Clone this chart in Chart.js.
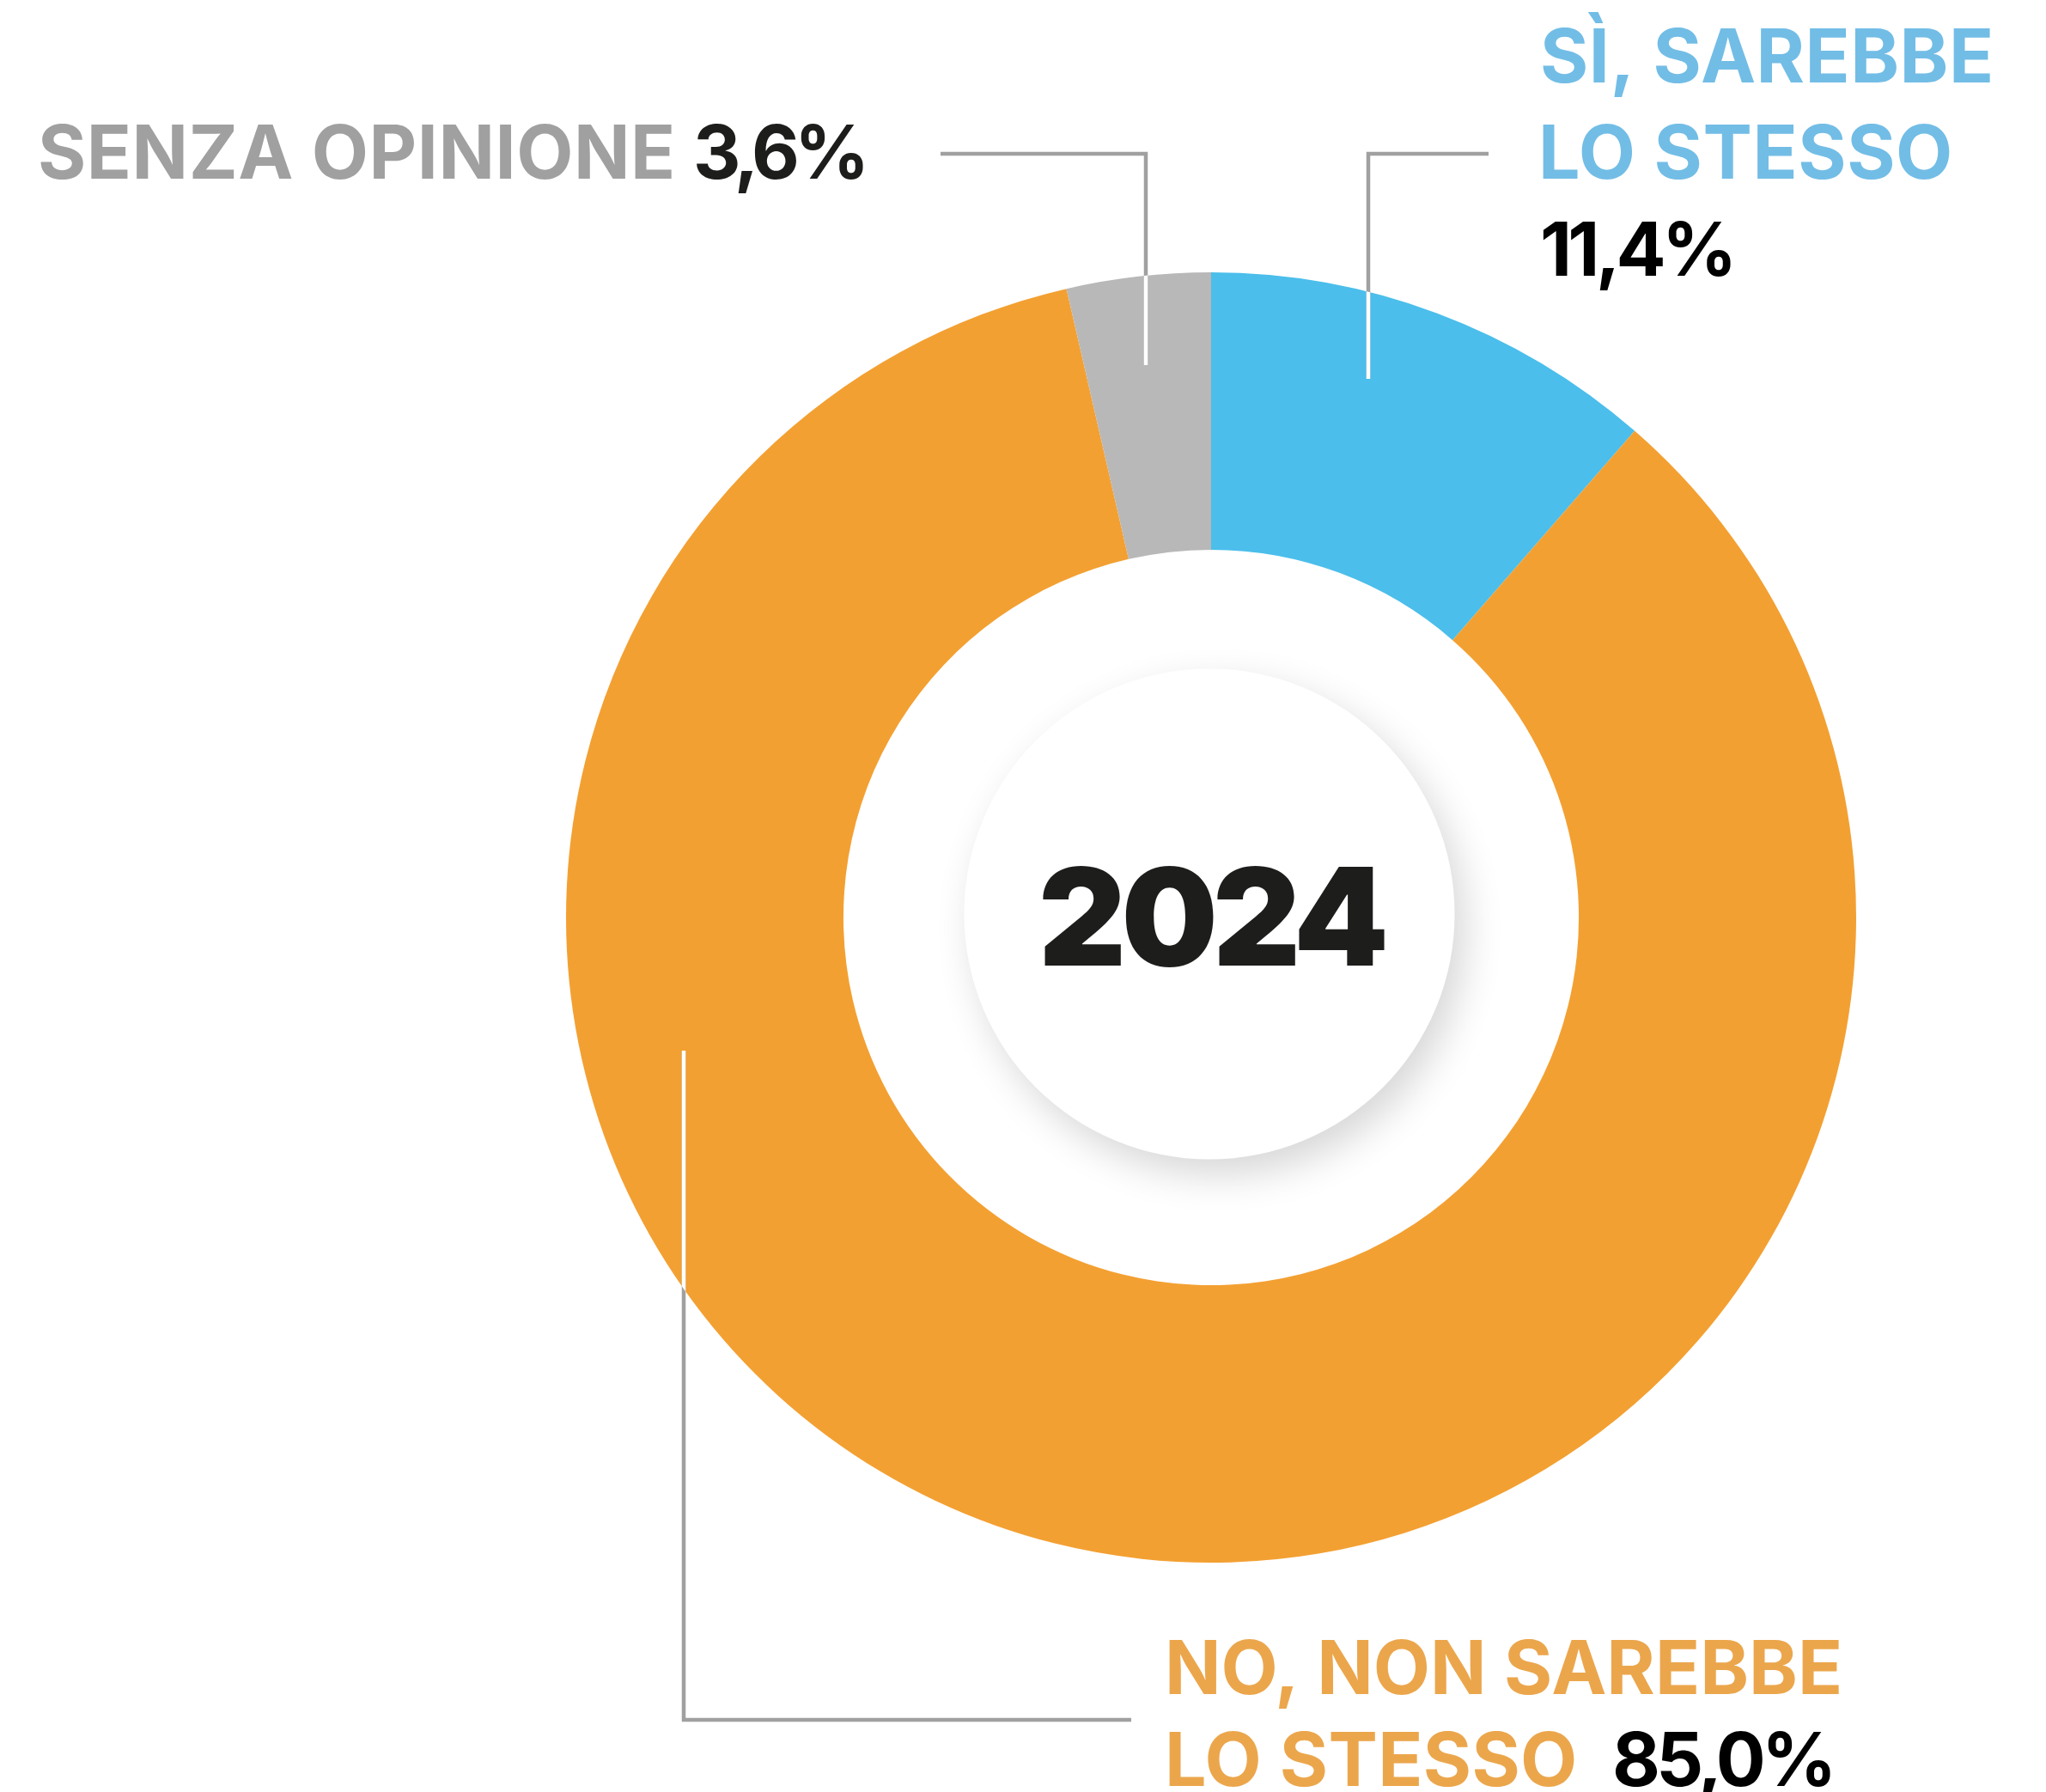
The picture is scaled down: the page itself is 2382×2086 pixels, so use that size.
<!DOCTYPE html>
<html lang="it">
<head>
<meta charset="utf-8">
<title>2024</title>
<script src="https://cdn.jsdelivr.net/npm/chart.js@4.4.1/dist/chart.umd.min.js"></script>
<style>
    html, body { margin: 0; padding: 0; background: #ffffff; }
    canvas { display: block; }
</style>
</head>
<body>
<canvas id="donutChart" width="2382" height="2086"></canvas>
<script>
// Chart data
const categories = ['SÌ, SAREBBE LO STESSO', 'NO, NON SAREBBE LO STESSO', 'SENZA OPINIONE'];
const values = [11.4, 85.0, 3.6];
const valueLabels = ['11,4%', '85,0%', '3,6%'];
const centerLabel = '2024';

// Colours
const sliceColors = ['#4bbeeb', '#f3a032', '#b8b8b8'];
const labelColors = ['#72bde6', '#eba64c', '#a0a0a0'];
const numberColor = '#1d1d1b';
const leaderColor = '#a0a0a0';

const FONT = 'Inter, "Liberation Sans", Arial, sans-serif';

// Draw text so that its ink starts at `left` and spans `width`
function drawFitted(ctx, text, left, baseline, width, size, weight, color) {
    ctx.font = weight + ' ' + size + 'px ' + FONT;
    ctx.letterSpacing = '0px';
    let m = ctx.measureText(text);
    const natural = m.actualBoundingBoxLeft + m.actualBoundingBoxRight;
    if (width && text.length > 1) {
        ctx.letterSpacing = ((width - natural) / (text.length - 1)).toFixed(2) + 'px';
        m = ctx.measureText(text);
    }
    ctx.fillStyle = color;
    ctx.textAlign = 'left';
    ctx.textBaseline = 'alphabetic';
    ctx.fillText(text, left + m.actualBoundingBoxLeft, baseline);
    ctx.letterSpacing = '0px';
}

// Leader lines: gray outside the ring, white where they cross it
function drawLeader(ctx, pts, arc) {
    const path = () => {
        ctx.beginPath();
        ctx.moveTo(pts[0][0], pts[0][1]);
        for (let i = 1; i < pts.length; i++) ctx.lineTo(pts[i][0], pts[i][1]);
    };
    ctx.save();
    ctx.lineWidth = 4.5;
    ctx.lineCap = 'butt';
    ctx.lineJoin = 'miter';
    ctx.strokeStyle = leaderColor;
    path();
    ctx.stroke();
    ctx.beginPath();
    ctx.arc(arc.x, arc.y, arc.outerRadius, 0, Math.PI * 2);
    ctx.clip();
    ctx.strokeStyle = '#ffffff';
    path();
    ctx.stroke();
    ctx.restore();
}

const decorations = {
    id: 'decorations',
    afterDatasetsDraw(chart) {
        const ctx = chart.ctx;
        const arc = chart.getDatasetMeta(0).data[0];
        const cx = arc.x;
        const cy = arc.y;

        // inner disc with soft drop shadow
        ctx.save();
        ctx.shadowColor = 'rgba(0, 0, 0, 0.16)';
        ctx.shadowBlur = 45;
        ctx.shadowOffsetX = 12;
        ctx.shadowOffsetY = 18;
        ctx.fillStyle = '#ffffff';
        ctx.beginPath();
        ctx.arc(cx - 2, cy - 4, arc.innerRadius * 0.667, 0, Math.PI * 2);
        ctx.fill();
        ctx.restore();

        ctx.save();
        // centre year
        drawFitted(ctx, centerLabel, cx + 3 - 398 / 2, cy + 56, 398, 158, 900, numberColor);

        // leaders
        drawLeader(ctx, [[1095, 179], [1334, 179], [1334, 425]], arc);
        drawLeader(ctx, [[1733, 179], [1593, 179], [1593, 441]], arc);
        drawLeader(ctx, [[796, 1223], [796, 2002], [1317, 2002]], arc);

        // labels
        drawFitted(ctx, 'SENZA OPINIONE', 47, 208, 735, 86, 700, labelColors[2]);
        drawFitted(ctx, valueLabels[2], 811, 208, 194, 86, 700, numberColor);

        drawFitted(ctx, 'SÌ, SAREBBE', 1796, 96, 521, 86, 700, labelColors[0]);
        drawFitted(ctx, 'LO STESSO', 1796, 208, 474, 86, 700, labelColors[0]);
        drawFitted(ctx, valueLabels[0], 1796, 321, 219, 86, 700, '#000000');

        drawFitted(ctx, 'NO, NON SAREBBE', 1361, 1972, 780, 86, 700, labelColors[1]);
        drawFitted(ctx, 'LO STESSO', 1361, 2079, 472, 86, 700, labelColors[1]);
        drawFitted(ctx, valueLabels[1], 1880, 2079, 251, 86, 700, '#000000');
        ctx.restore();
    }
};

function createDonut() {
    const canvas = document.getElementById('donutChart');
    try {
        return new Chart(canvas, {
            type: 'doughnut',
            data: {
                labels: categories,
                datasets: [{
                    data: values,
                    backgroundColor: sliceColors,
                    borderWidth: 0,
                    hoverOffset: 0
                }]
            },
            options: {
                responsive: false,
                devicePixelRatio: 1,
                animation: false,
                cutout: '57%',
                rotation: 0,
                layout: {
                    padding: { left: 659, right: 221, top: 317, bottom: 267 }
                },
                plugins: {
                    legend: { display: false },
                    tooltip: { enabled: false }
                }
            },
            plugins: [decorations]
        });
    } catch (error) {
        console.error('Error creating donut chart:', error);
        return null;
    }
}

Promise.all([
    document.fonts.load('700 86px Inter'),
    document.fonts.load('900 158px Inter')
]).catch(() => {}).then(createDonut);
</script>
</body>
</html>
